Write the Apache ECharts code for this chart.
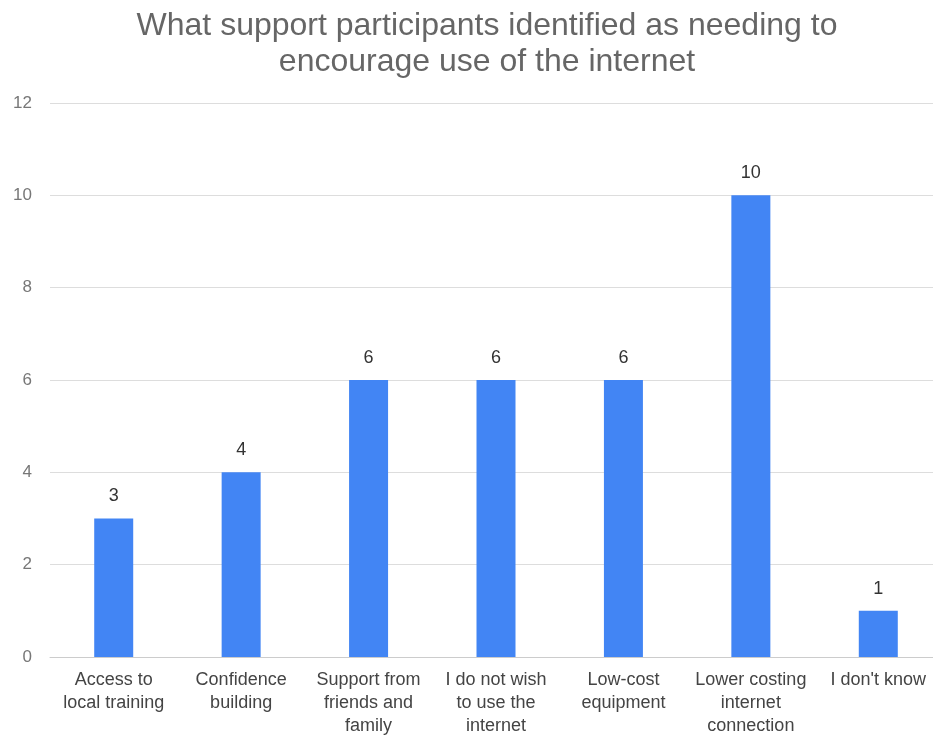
<!DOCTYPE html>
<html><head><meta charset="utf-8">
<script src="https://cdn.jsdelivr.net/npm/echarts@6/dist/echarts.min.js"></script>
<style>html,body{margin:0;padding:0;background:#fff;overflow:hidden}#c{width:960px;height:735px}</style>
</head><body><div id="c"></div>
<script>
const titleText = 'What support participants identified as needing to\nencourage use of the internet';
const categories = ['Access to\nlocal training','Confidence\nbuilding','Support from\nfriends and\nfamily','I do not wish\nto use the\ninternet','Low-cost\nequipment','Lower costing\ninternet\nconnection',"I don't know"];
const values = [3,4,6,6,6,10,1];
const yTicks = {min:0, max:12, interval:2};
const FONT = "'Liberation Sans',Arial,sans-serif";
const chart = echarts.init(document.getElementById('c'), null, {renderer:'canvas'});
chart.setOption({
  animation:false,
  backgroundColor:'#fff',
  title:{text:titleText,left:482,textAlign:'center',top:3,
    textStyle:{fontFamily:FONT,fontSize:32,fontWeight:'normal',color:'#666',lineHeight:36}},
  grid:{left:50,top:103,width:892,height:554,containLabel:false,outerBoundsMode:'none'},
  xAxis:{type:'category',data:categories,
    axisLine:{show:true,lineStyle:{color:'#ccc',width:1}},
    axisTick:{show:false},
    axisLabel:{interval:0,margin:12,fontFamily:FONT,fontSize:18,lineHeight:23,color:'#444'}},
  yAxis:{type:'value',min:yTicks.min,max:yTicks.max,interval:yTicks.interval,
    axisLine:{show:false},axisTick:{show:false},
    splitLine:{lineStyle:{color:'#ddd',width:1}},
    axisLabel:{margin:18,fontFamily:FONT,fontSize:17,color:'#777'}},
  series:[{type:'bar',data:values,barWidth:39,
    itemStyle:{color:'#4285F4'},
    label:{show:true,position:'top',distance:13,fontFamily:FONT,fontSize:18,color:'#333'}}]
});
</script></body></html>
